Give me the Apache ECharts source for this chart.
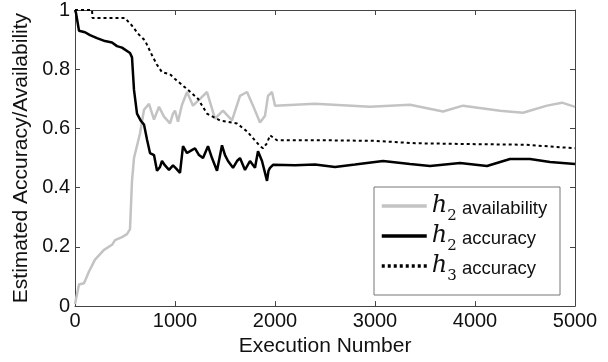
<!DOCTYPE html>
<html><head><meta charset="utf-8">
<script src="https://cdn.jsdelivr.net/npm/echarts@6/dist/echarts.min.js"></script>
<style>html,body{margin:0;padding:0;background:#fff}#c{width:608px;height:362px}</style>
</head><body><div id="c"></div>
<script>
// ---- data ----
const xTicks = [0, 1000, 2000, 3000, 4000, 5000];
const yTickLabels = ['0', '0.2', '0.4', '0.6', '0.8', '1'];

const h2AvailN = [0,40,90,140,200,290,370,400,470,520,550,560,570,590,650,690,740,790,840,890,950,980,1000,1030,1070,1120,1180,1250,1320,1400,1480,1570,1650,1720,1780,1850,1900,1930,1970,2000,2400,2950,3350,3680,3880,4250,4480,4720,4870,5000];
const h2AvailV = [0.007,0.073,0.077,0.117,0.157,0.19,0.207,0.223,0.233,0.243,0.26,0.265,0.423,0.5,0.583,0.663,0.683,0.63,0.673,0.64,0.617,0.65,0.66,0.623,0.68,0.723,0.677,0.70,0.723,0.633,0.66,0.627,0.71,0.723,0.677,0.62,0.643,0.71,0.723,0.677,0.683,0.673,0.68,0.657,0.677,0.66,0.653,0.677,0.687,0.673];

const h2AccN = [0,10,40,100,150,220,300,370,420,470,550,570,590,620,660,690,720,750,790,820,850,870,900,940,980,1010,1050,1080,1120,1160,1200,1240,1280,1330,1370,1420,1470,1500,1530,1580,1620,1650,1700,1750,1800,1830,1870,1900,1920,1935,1950,1980,2000,2200,2400,2600,2800,3080,3350,3550,3850,4120,4350,4550,4750,5000];
const h2AccV = [1.0,0.99,0.93,0.925,0.915,0.905,0.895,0.89,0.878,0.873,0.855,0.84,0.73,0.65,0.625,0.613,0.563,0.517,0.51,0.457,0.47,0.49,0.475,0.46,0.475,0.465,0.45,0.54,0.517,0.525,0.533,0.51,0.5,0.54,0.5,0.457,0.543,0.51,0.49,0.467,0.49,0.5,0.46,0.49,0.467,0.523,0.49,0.45,0.423,0.457,0.467,0.477,0.478,0.476,0.478,0.47,0.478,0.49,0.48,0.473,0.483,0.473,0.497,0.497,0.487,0.48];

const h3AccN = [0,170,175,500,570,630,700,770,820,870,950,1000,1120,1230,1320,1450,1620,1720,1850,1880,1920,1950,2020,2500,3000,3400,4000,4500,5000];
const h3AccV = [1.0,1.0,0.973,0.973,0.947,0.92,0.897,0.847,0.815,0.79,0.783,0.767,0.733,0.70,0.65,0.627,0.617,0.59,0.54,0.533,0.55,0.577,0.56,0.56,0.558,0.55,0.547,0.545,0.533];

const seriesNames = ['h2 availability', 'h2 accuracy', 'h3 accuracy'];
const legendParts = [['2', 'availability'], ['2', 'accuracy'], ['3', 'accuracy']];

// ---- chart ----
const zip = (a, b) => a.map((v, i) => [v, b[i]]);
const chart = echarts.init(document.getElementById('c'), null, {renderer: 'canvas'});
const font = 'Liberation Sans, Arial, sans-serif';
const axisColor = '#444';
const baseAxis = {
  type: 'value', splitLine: {show: false},
  axisLine: {show: true, onZero: false, lineStyle: {color: axisColor, width: 1}},
  axisTick: {show: true, inside: true, length: 5, lineStyle: {color: axisColor}},
  axisLabel: {color: '#111', fontSize: 20, fontFamily: font}
};
chart.setOption({
  animation: false,
  backgroundColor: '#fff',
  grid: {left: 75, top: 10, right: 33, bottom: 52},
  xAxis: [
    Object.assign({}, baseAxis, {position: 'bottom', min: 0, max: 5000, interval: 1000,
      axisLabel: Object.assign({}, baseAxis.axisLabel, {margin: 5, formatter: v => String(v)}),
      name: 'Execution Number', nameLocation: 'middle', nameGap: 27,
      nameTextStyle: {fontSize: 21, color: '#111', fontFamily: font}}),
    Object.assign({}, baseAxis, {position: 'top', min: 0, max: 5000, interval: 1000, axisLabel: {show: false}})
  ],
  yAxis: [
    Object.assign({}, baseAxis, {position: 'left', min: 0, max: 1, interval: 0.2,
      axisLabel: Object.assign({}, baseAxis.axisLabel, {margin: 5,
        formatter: v => yTickLabels[Math.round(v * 5)]}),
      name: 'Estimated Accuracy/Availability', nameLocation: 'middle', nameGap: 39,
      nameTextStyle: {fontSize: 21, color: '#111', fontFamily: font}}),
    Object.assign({}, baseAxis, {position: 'right', min: 0, max: 1, interval: 0.2, axisLabel: {show: false}})
  ],
  graphic: [{type: 'rect', shape: {x: 374, y: 187, width: 186, height: 108},
    style: {fill: '#fff', stroke: '#777', lineWidth: 1}, z: 50}],
  legend: {
    orient: 'vertical', left: 375, top: 189, itemWidth: 45, itemHeight: 14, itemGap: 0,
    itemStyle: {opacity: 0}, lineStyle: {width: 3.5},
    z: 60, data: seriesNames,
    formatter: name => {
      const p = legendParts[seriesNames.indexOf(name)];
      return '{h|h}{s|' + p[0] + '}{t| ' + p[1] + '}';
    },
    textStyle: {
      rich: {
        h: {fontFamily: 'DejaVu Serif', fontStyle: 'italic', fontSize: 24, color: '#111', verticalAlign: 'bottom', lineHeight: 24},
        s: {fontFamily: 'DejaVu Serif', fontSize: 15, color: '#111', verticalAlign: 'bottom', lineHeight: 14, padding: [0, 0, -6, 0]},
        t: {fontFamily: font, fontSize: 18.5, color: '#111', verticalAlign: 'bottom', lineHeight: 22}
      }
    }
  },
  series: [
    {name: seriesNames[0], type: 'line', symbol: 'none', data: zip(h2AvailN, h2AvailV),
      lineStyle: {color: '#c3c3c3', width: 2.5}, itemStyle: {color: '#c3c3c3'}, z: 2},
    {name: seriesNames[1], type: 'line', symbol: 'none', data: zip(h2AccN, h2AccV),
      lineStyle: {color: '#000', width: 2.5}, itemStyle: {color: '#000'}, z: 3},
    {name: seriesNames[2], type: 'line', symbol: 'none', data: zip(h3AccN, h3AccV),
      lineStyle: {color: '#000', width: 2, type: [3, 3]}, itemStyle: {color: '#000'}, z: 4}
  ]
});
</script></body></html>
